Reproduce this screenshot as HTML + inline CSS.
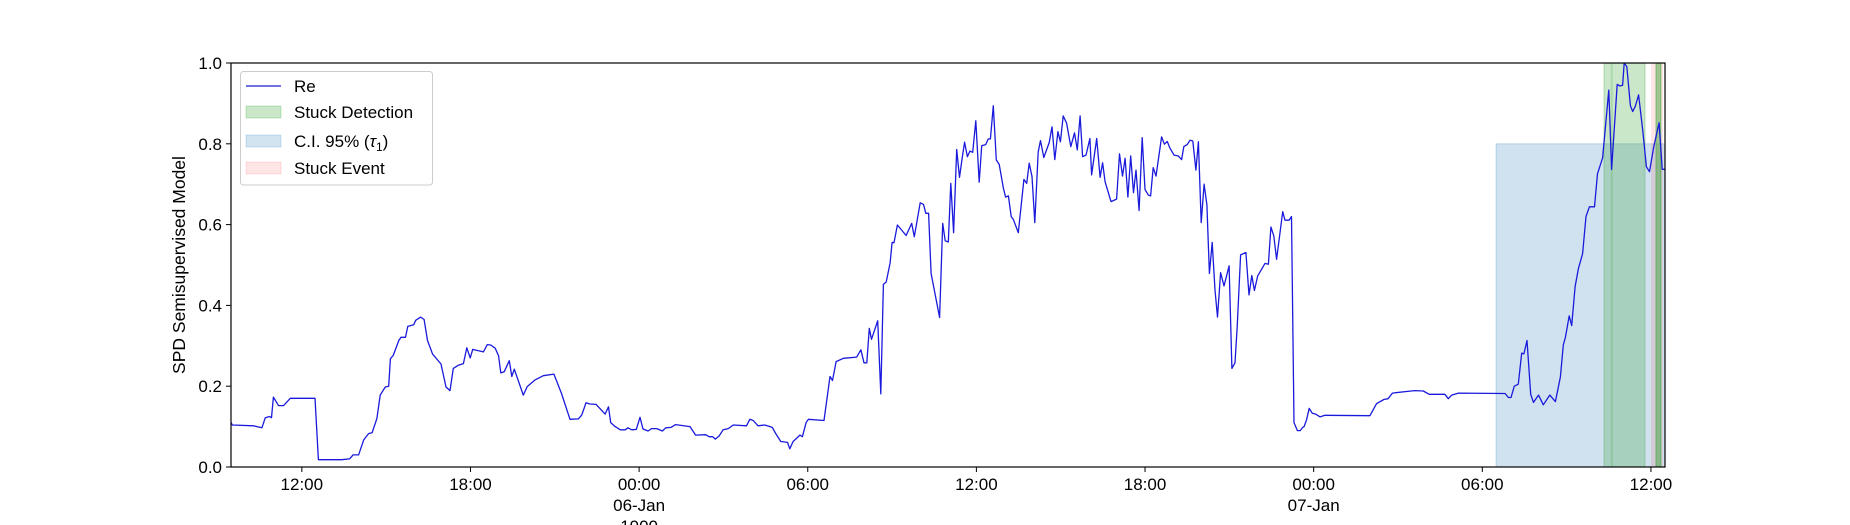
<!DOCTYPE html>
<html><head><meta charset="utf-8"><style>
html,body{margin:0;padding:0;background:#fff;}
svg{display:block;font-family:"Liberation Sans","DejaVu Sans",sans-serif;}
</style></head><body>
<svg id="chart" width="1850" height="525" viewBox="0 0 1850 525" xmlns="http://www.w3.org/2000/svg">
<g id="spans"></g>
<g id="series"></g>
<g id="axes"></g>
<g id="legend"></g>
</svg>
<script>
const hours = [9.48,9.53,10.28,10.58,10.7,10.85,10.92,10.99,11.17,11.35,11.59,12.47,12.59,13.42,13.7,13.82,14.02,14.2,14.38,14.5,14.67,14.79,14.97,15.09,15.15,15.25,15.45,15.53,15.69,15.77,15.98,16.05,16.23,16.35,16.47,16.65,16.95,17.13,17.27,17.39,17.57,17.75,17.87,17.99,18.08,18.46,18.6,18.72,18.88,19.0,19.08,19.2,19.38,19.47,19.56,19.88,20.02,20.29,20.59,20.97,21.24,21.54,21.84,21.96,22.11,22.25,22.47,22.79,22.91,22.99,23.15,23.33,23.51,23.6,23.74,23.9,24.03,24.14,24.32,24.44,24.63,24.83,24.95,25.13,25.3,25.81,26.01,26.37,26.49,26.62,26.71,26.85,26.99,27.17,27.35,27.82,27.94,28.06,28.23,28.47,28.74,28.86,29.04,29.28,29.36,29.48,29.57,29.72,29.81,29.94,30.02,30.58,30.79,30.88,31.01,31.27,31.74,31.89,32.0,32.1,32.19,32.27,32.49,32.6,32.69,32.79,32.93,33.0,33.07,33.19,33.5,33.7,33.79,34.0,34.12,34.2,34.3,34.39,34.69,34.8,34.89,35.0,35.09,35.19,35.3,35.4,35.51,35.58,35.68,35.77,35.87,35.98,36.1,36.19,36.33,36.42,36.5,36.6,36.71,36.81,36.96,37.04,37.14,37.24,37.32,37.49,37.69,37.79,37.88,37.98,38.08,38.2,38.28,38.4,38.59,38.69,38.79,38.9,38.99,39.09,39.21,39.36,39.49,39.59,39.69,39.78,39.9,40.04,40.1,40.28,40.4,40.49,40.58,40.79,40.99,41.09,41.2,41.29,41.39,41.49,41.59,41.68,41.79,41.9,42.0,42.12,42.2,42.29,42.39,42.59,42.69,42.79,42.89,43.03,43.18,43.3,43.38,43.5,43.6,43.7,43.81,43.9,44.0,44.1,44.2,44.29,44.39,44.49,44.58,44.69,44.81,44.99,45.09,45.2,45.28,45.4,45.59,45.7,45.8,45.89,46.01,46.27,46.39,46.48,46.58,46.68,46.9,46.98,47.13,47.21,47.3,47.42,47.52,47.61,47.66,47.75,47.84,47.95,48.07,48.23,48.4,50.0,50.24,50.5,50.65,50.8,51.3,51.6,51.9,52.11,52.67,52.79,52.91,53.15,54.81,54.93,55.02,55.14,55.28,55.4,55.48,55.59,55.72,55.82,56.0,56.17,56.4,56.6,56.78,56.88,56.96,57.09,57.18,57.3,57.42,57.57,57.69,57.81,57.99,58.1,58.28,58.5,58.6,58.8,58.9,58.99,59.05,59.14,59.27,59.35,59.44,59.56,59.71,59.84,59.95,60.1,60.29,60.4,60.5];
const values = [.110,.104,.102,.097,.122,.125,.122,.173,.152,.152,.170,.170,.018,.018,.020,.030,.030,.067,.083,.085,.12,.178,.198,.2,.268,.276,.313,.321,.321,.348,.352,.363,.371,.365,.313,.280,.255,.198,.189,.244,.252,.256,.295,.270,.291,.285,.303,.302,.294,.275,.233,.236,.263,.224,.242,.178,.199,.215,.226,.230,.182,.118,.119,.129,.159,.156,.155,.131,.149,.110,.100,.092,.092,.097,.092,.093,.123,.094,.089,.095,.095,.089,.097,.098,.105,.100,.079,.080,.075,.075,.069,.077,.092,.095,.104,.102,.118,.115,.102,.104,.098,.083,.063,.061,.045,.063,.069,.079,.075,.110,.118,.115,.224,.214,.261,.269,.272,.290,.258,.258,.343,.316,.362,.181,.452,.458,.505,.556,.555,.599,.573,.603,.570,.654,.650,.628,.628,.479,.370,.603,.560,.557,.702,.580,.786,.717,.772,.804,.768,.782,.779,.857,.705,.795,.798,.812,.812,.894,.760,.749,.690,.668,.671,.620,.612,.580,.712,.702,.752,.719,.605,.780,.808,.766,.803,.842,.761,.830,.805,.869,.851,.793,.827,.785,.869,.768,.772,.813,.723,.813,.717,.753,.706,.657,.663,.775,.720,.764,.668,.770,.679,.735,.635,.815,.687,.673,.671,.741,.720,.817,.799,.806,.789,.772,.770,.761,.793,.798,.809,.807,.735,.805,.605,.700,.649,.479,.556,.438,.371,.481,.448,.498,.244,.258,.347,.525,.531,.426,.474,.437,.473,.504,.502,.594,.572,.514,.632,.611,.611,.620,.110,.090,.090,.098,.100,.117,.145,.133,.131,.124,.128,.127,.157,.167,.169,.183,.187,.189,.188,.180,.180,.169,.178,.183,.182,.172,.172,.200,.205,.282,.28,.313,.18,.160,.178,.154,.178,.162,.223,.302,.322,.374,.350,.446,.491,.528,.620,.644,.644,.726,.765,.933,.737,.947,.943,.945,1.0,.991,.894,.880,.892,.921,.832,.743,.731,.793,.852,.737,.737];
const ciStart = [54.49];
const ciEnd = [60.5];
const ciTop = [0.8];
const detStart = [58.33, 58.62, 60.17, 60.2];
const detEnd = [58.59, 59.79, 60.36, 60.34];
const eventStart = [60.0];
const eventEnd = [60.43];
const yTicks = [0,0.2,0.4,0.6,0.8,1.0];
const yTickLabels = ["0.0","0.2","0.4","0.6","0.8","1.0"];
const xTicks = [12,18,24,30,36,42,48,54,60];
const xTickLabels = ["12:00","18:00","00:00\n06-Jan\n1900","06:00","12:00","18:00","00:00\n07-Jan","06:00","12:00"];

const L=231,R=1665,T=63,B=467, H0=9.48, H1=60.5;
const x = h => L + (h-H0)*(R-L)/(H1-H0);
const y = v => B - v*(B-T);
const NS="http://www.w3.org/2000/svg";
function mk(tag, attrs, parent){const e=document.createElementNS(NS,tag);for(const k in attrs)e.setAttribute(k,attrs[k]);parent.appendChild(e);return e;}

const spans=document.getElementById('spans');
ciStart.forEach((s,i)=>{
  const r=mk('rect',{x:x(s),y:y(ciTop[i]),width:x(ciEnd[i])-x(s),height:y(0)-y(ciTop[i]),fill:'#1f77b4','fill-opacity':0.21,stroke:'#1f77b4','stroke-opacity':0.25},spans);
  
  
});
eventStart.forEach((s,i)=>{
  const r=mk('rect',{x:x(s),y:T,width:x(eventEnd[i])-x(s),height:B-T,fill:'#ff0000','fill-opacity':0.1},spans);
  
  
});
detStart.forEach((s,i)=>{
  const r=mk('rect',{x:x(s),y:T,width:x(detEnd[i])-x(s),height:B-T,fill:'#2ca02c','fill-opacity':0.25,stroke:'#2ca02c','stroke-opacity':0.3},spans);
  
  
});

const series=document.getElementById('series');
const pts=hours.map((h,i)=>x(h).toFixed(1)+','+y(values[i]).toFixed(1)).join(' ');
const pl=mk('polyline',{points:pts,fill:'none',stroke:'#1a1adc','stroke-width':1.3,'stroke-linejoin':'round'},series);



const axes=document.getElementById('axes');
const fr=mk('rect',{x:L,y:T,width:R-L,height:B-T,fill:'none',stroke:'#000','stroke-width':1.2},axes);


yTicks.forEach((v,i)=>{
  const t=mk('line',{x1:L-5,x2:L,y1:y(v),y2:y(v),stroke:'#000','stroke-width':1},axes);
  
  
  const tx=mk('text',{x:L-9,y:y(v)+6,'text-anchor':'end','font-size':17,fill:'#000'},axes);
  tx.textContent=yTickLabels[i];
  
  
});
xTicks.forEach((h,i)=>{
  const t=mk('line',{x1:x(h),x2:x(h),y1:B,y2:B+5,stroke:'#000','stroke-width':1},axes);
  
  
  xTickLabels[i].split('\n').forEach((ln,j)=>{
    const tx=mk('text',{x:x(h),y:B+23+j*21,'text-anchor':'middle','font-size':17,fill:'#000'},axes);
    tx.textContent=ln;
    
    
  });
});
const yl=mk('text',{x:0,y:0,transform:'translate(185,265) rotate(-90)','text-anchor':'middle','font-size':17.5,fill:'#000'},axes);
yl.textContent='SPD Semisupervised Model';



const lg=document.getElementById('legend');
const box=mk('rect',{x:240.5,y:71.5,width:192,height:113.5,rx:3,fill:'#fff','fill-opacity':0.8,stroke:'#ccc'},lg);


const entries=[['Re','line','#1a1adc'],['Stuck Detection','patch','#2ca02c',0.25],['C.I. 95% (τ1)','patch','#1f77b4',0.2],['Stuck Event','patch','#ff0000',0.1]];
const ey=[86,112,141,168];
entries.forEach((e,i)=>{
  const g=mk('g',{},lg);
  
  
  if(e[1]==='line'){mk('line',{x1:246,x2:281,y1:ey[i],y2:ey[i],stroke:e[2],'stroke-width':1.3},g);}
  else{mk('rect',{x:246,y:ey[i]-6,width:35,height:12,fill:e[2],'fill-opacity':e[3],stroke:e[2],'stroke-opacity':e[3]},g);}
  const t=mk('text',{x:294,y:ey[i]+6,'font-size':17,fill:'#000'},g);
  if(i===2){t.textContent='C.I. 95% (';const s=mk('tspan',{'font-style':'italic'},t);s.textContent='τ';const s2=mk('tspan',{dy:4,'font-size':12},t);s2.textContent='1';const s3=mk('tspan',{dy:-4},t);s3.textContent=')';}
  else t.textContent=e[0];
});
</script>
</body></html>
